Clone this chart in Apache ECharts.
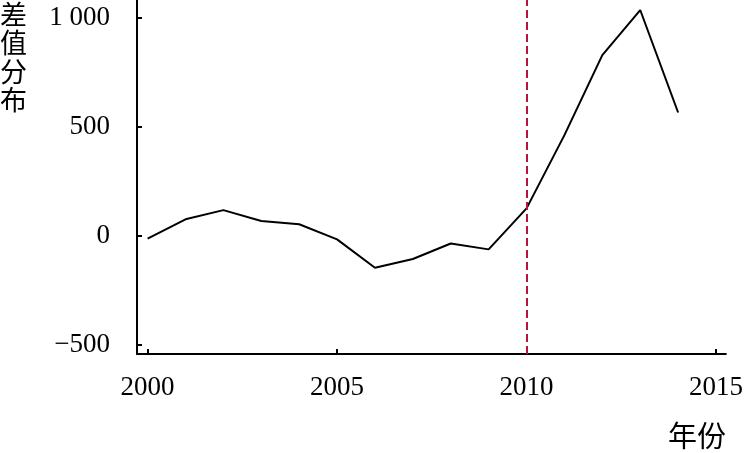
<!DOCTYPE html>
<html><head><meta charset="utf-8">
<script src="https://cdn.jsdelivr.net/npm/echarts@6/dist/echarts.min.js"></script>
<style>html,body{margin:0;padding:0;background:#fff}#c{width:746px;height:453px}</style>
</head><body><div id="c"></div>
<script>
var years = [2000,2001,2002,2003,2004,2005,2006,2007,2008,2009,2010,2011,2012,2013,2014];
var values = [-12,77,119,69,54,-15,-145,-105,-34,-61,127,463,830,1037,567];
var xTicks = [2000,2005,2010,2015];
var yTicks = [-500,0,500,1000];
var markYear = 2010;
var yName = '差值分布';
var xName = '年份';

var chart = echarts.init(document.getElementById('c'));
var serif = '"Liberation Serif","Times New Roman",serif';
var cjk = '"Noto Sans CJK SC","Noto Sans CJK JP",sans-serif';
chart.setOption({
  animation:false,
  grid:{left:137,right:19,top:0,bottom:99,containLabel:false},
  xAxis:{type:'value',min:1999.72,max:2015.26,
    axisLine:{show:true,onZero:false,lineStyle:{color:'#000',width:2}},
    axisTick:{show:true,inside:true,length:5,lineStyle:{color:'#000',width:2},customValues:xTicks},
    axisLabel:{customValues:xTicks,color:'#000',fontFamily:serif,fontSize:27,margin:20,
      formatter:function(v){return String(v);}},
    splitLine:{show:false}},
  yAxis:{type:'value',min:-541,max:1083,
    axisLine:{show:true,onZero:false,lineStyle:{color:'#000',width:2}},
    axisTick:{show:true,inside:true,length:5,lineStyle:{color:'#000',width:2},customValues:yTicks},
    axisLabel:{customValues:yTicks,color:'#000',fontFamily:serif,fontSize:27,margin:27,
      formatter:function(v){
        var s = Math.abs(v).toString().replace(/\B(?=(\d{3})+(?!\d))/g,' ');
        return (v<0?'\u2212':'')+s;}},
    splitLine:{show:false}},
  graphic:[
    {type:'text',left:0,top:0,style:{text:yName.split('').join('\n'),font:'27px '+cjk,fill:'#000',lineHeight:28.5}},
    {type:'text',left:668,top:421,style:{text:xName,font:'29px '+cjk,fill:'#000'}}
  ],
  series:[{type:'line',data:years.map(function(y,i){return [y,values[i]];}),
    symbol:'none',lineStyle:{color:'#000',width:2},
    markLine:{silent:true,symbol:'none',label:{show:false},
      lineStyle:{color:'#b5123e',width:2,type:[8,4]},
      data:[{xAxis:markYear}]}}]
});
</script></body></html>
